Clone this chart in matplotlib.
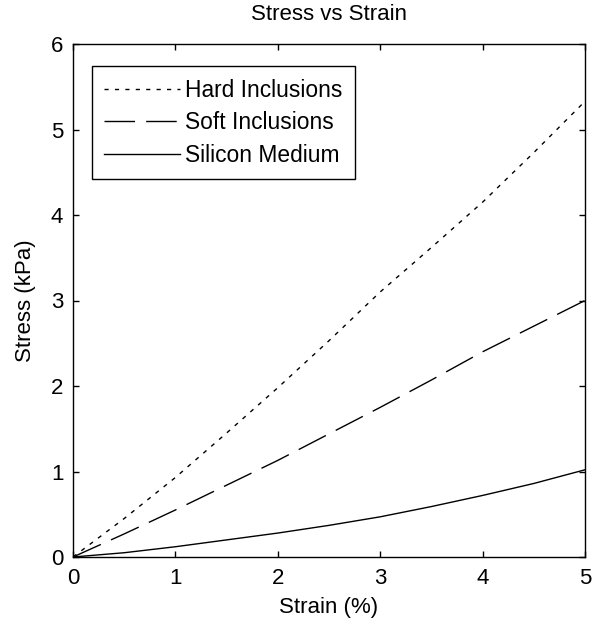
import matplotlib
matplotlib.use("Agg")
import matplotlib.pyplot as plt

strain = [0, 0.5, 1, 1.5, 2, 2.5, 3, 3.5, 4, 4.5, 5]
hard = [0, 0.45, 0.93, 1.45, 1.98, 2.53, 3.1, 3.62, 4.15, 4.73, 5.33]
soft = [0, 0.27, 0.55, 0.84, 1.13, 1.44, 1.75, 2.07, 2.40, 2.70, 3.0]
silicon = [0, 0.05, 0.12, 0.20, 0.28, 0.37, 0.47, 0.59, 0.72, 0.86, 1.02]
labels = ["Hard Inclusions", "Soft Inclusions", "Silicon Medium"]

plt.rcParams['font.family'] = ['Liberation Sans', 'DejaVu Sans']
FS = 16

fig = plt.figure(figsize=(6.03, 6.20), dpi=100)
ax = fig.add_axes([73/603, 63/620, 512/603, 513/620])

ax.plot(strain, hard, color='black', lw=1, linestyle=(0, (3, 4.5)), label=labels[0])
ax.plot(strain, soft, color='black', lw=1, linestyle=(0, (22, 8)), label=labels[1])
ax.plot(strain, silicon, color='black', lw=1, linestyle='-', label=labels[2])

ax.set_xlim(0, 5)
ax.set_ylim(0, 6)
ax.set_xticks(range(0, 6))
ax.set_yticks(range(0, 7))
ax.tick_params(direction='in', top=True, right=True, length=4.5, width=1, labelsize=FS)
ax.tick_params(axis='x', pad=8)
ax.tick_params(axis='y', pad=7)
for s in ax.spines.values():
    s.set_linewidth(1)
ax.set_xlabel("Strain (%)", fontsize=FS, labelpad=6)
ax.set_ylabel("Stress (kPa)", fontsize=FS, labelpad=11)
ax.set_title("Stress vs Strain", fontsize=FS, pad=17)

leg = ax.legend(loc='upper left', bbox_to_anchor=(0.037, 0.957), borderaxespad=0,
                fontsize=16.4, handlelength=3.3, handletextpad=0.22, labelspacing=0.42,
                fancybox=False, framealpha=1, edgecolor='black', borderpad=0.55)
leg.get_frame().set_linewidth(1)

fig.savefig("out.png", dpi=100)
